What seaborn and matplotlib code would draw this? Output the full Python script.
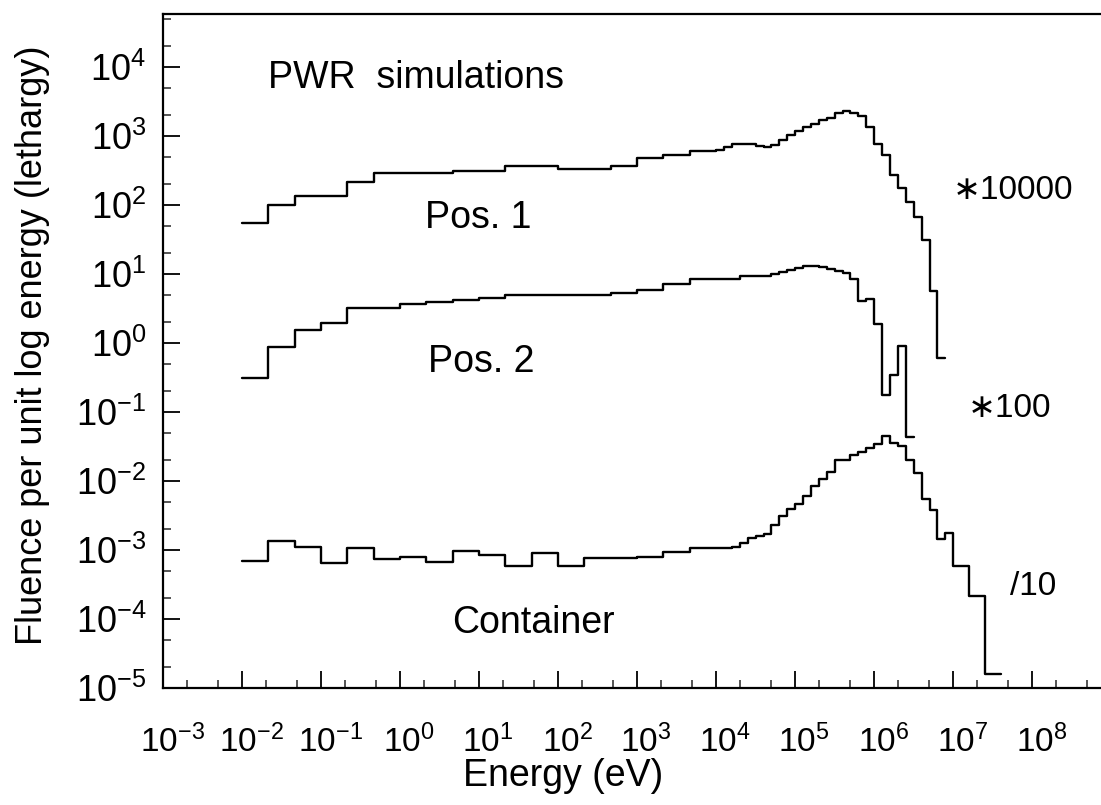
import numpy as np
import pandas as pd
import matplotlib
matplotlib.use("Agg")
import matplotlib.pyplot as plt
import matplotlib.transforms as mtransforms
from matplotlib.ticker import LogLocator, LogFormatterSciNotation, NullFormatter
import seaborn as sns

# energy bin edges (eV): 3 per decade up to 10 keV, then 10 per decade, then 5 per decade
energy_edges = [
    1.00e-2, 2.15e-2, 4.64e-2, 1.00e-1, 2.15e-1, 4.64e-1,
    1.00e0, 2.15e0, 4.64e0, 1.00e1, 2.15e1, 4.64e1,
    1.00e2, 2.15e2, 4.64e2, 1.00e3, 2.15e3, 4.64e3,
    1.00e4, 1.26e4, 1.58e4, 2.00e4, 2.51e4, 3.16e4, 3.98e4, 5.01e4, 6.31e4, 7.94e4,
    1.00e5, 1.26e5, 1.58e5, 2.00e5, 2.51e5, 3.16e5, 3.98e5, 5.01e5, 6.31e5, 7.94e5,
    1.00e6, 1.26e6, 1.58e6, 2.00e6, 2.51e6, 3.16e6, 3.98e6, 5.01e6, 6.31e6, 7.94e6,
    1.00e7, 1.58e7, 2.51e7, 3.98e7,
]

# fluence per unit lethargy, already multiplied by the factor shown on the right
pos1_fluence = [
    55, 100, 135, 135, 214, 288, 295, 295, 316, 316, 363, 363,
    331, 331, 363, 479, 525, 603,
    631, 692, 759, 776, 776, 724, 692, 741, 871, 1023,
    1202, 1349, 1514, 1738, 1820, 2188, 2344, 2188, 1950, 1349,
    776, 525, 269, 174, 112, 67.6, 31.6, 5.75, 0.60,
]
pos2_fluence = [
    0.309, 0.891, 1.55, 1.95, 3.24, 3.24, 3.72, 3.89, 4.27, 4.57, 5.01, 5.01,
    5.01, 5.01, 5.25, 5.89, 7.24, 8.51,
    8.51, 8.51, 8.51, 9.33, 9.33, 9.33, 9.33, 10.0, 10.7, 11.5,
    12.3, 12.9, 12.9, 12.6, 12.0, 11.2, 10.5, 8.51, 4.07, 4.37,
    1.86, 0.174, 0.347, 0.912, 0.0437,
]
container_fluence = [
    7.00e-4, 1.33e-3, 1.12e-3, 6.46e-4, 1.07e-3, 7.41e-4, 7.82e-4, 6.61e-4,
    9.55e-4, 8.51e-4, 5.92e-4, 8.93e-4, 5.92e-4, 7.59e-4, 7.59e-4, 7.94e-4,
    9.23e-4, 1.07e-3,
    1.07e-3, 1.07e-3, 1.12e-3, 1.26e-3, 1.51e-3, 1.58e-3, 1.70e-3, 2.34e-3, 3.16e-3, 3.89e-3,
    4.68e-3, 6.17e-3, 8.51e-3, 1.07e-2, 1.35e-2, 2.00e-2, 2.04e-2, 2.40e-2, 2.63e-2, 3.02e-2,
    3.39e-2, 4.57e-2, 3.55e-2, 3.24e-2, 2.04e-2, 1.29e-2, 5.50e-3, 3.80e-3, 1.45e-3, 1.78e-3,
    5.89e-4, 2.19e-4, 1.62e-5,
]

series_names = ["Pos. 1", "Pos. 2", "Container"]
scale_notes = ["\u221710000", "\u2217100", "/10"]
x_ticks = [1e-3, 1e-2, 1e-1, 1e0, 1e1, 1e2, 1e3, 1e4, 1e5, 1e6, 1e7, 1e8]
y_ticks = [1e-5, 1e-4, 1e-3, 1e-2, 1e-1, 1e0, 1e1, 1e2, 1e3, 1e4]


def step_frame(values, name):
    # last value repeated so the final bin gets its horizontal segment
    edges = energy_edges[:len(values) + 1]
    return pd.DataFrame({"energy": edges,
                         "fluence": list(values) + [values[-1]],
                         "series": name})


df = pd.concat([step_frame(pos1_fluence, series_names[0]),
                step_frame(pos2_fluence, series_names[1]),
                step_frame(container_fluence, series_names[2])], ignore_index=True)

sns.set_style("ticks")
plt.rcParams["font.family"] = ["Liberation Sans", "DejaVu Sans"]
plt.rcParams["text.color"] = "black"
plt.rcParams["axes.labelcolor"] = "black"
plt.rcParams["mathtext.fontset"] = "custom"
plt.rcParams["mathtext.rm"] = "Liberation Sans"
plt.rcParams["mathtext.it"] = "Liberation Sans:italic"
plt.rcParams["mathtext.bf"] = "Liberation Sans:bold"

fig = plt.figure(figsize=(11.01, 8.05), dpi=100)
ax = fig.add_axes([163 / 1101, 117 / 805, 938 / 1101, 674 / 805])
ax.set_xscale("log")
ax.set_yscale("log")

for name, sub in df.groupby("series", sort=False):
    sns.lineplot(data=sub, x="energy", y="fluence", drawstyle="steps-post",
                 color="black", linewidth=1.7, estimator=None, sort=False,
                 legend=False, ax=ax)

ax.set_xticks(x_ticks)
ax.set_yticks(y_ticks)
ax.xaxis.set_major_formatter(LogFormatterSciNotation())
ax.yaxis.set_major_formatter(LogFormatterSciNotation())
ax.xaxis.set_minor_locator(LogLocator(base=10, subs=[2, 5], numticks=30))
ax.yaxis.set_minor_locator(LogLocator(base=10, subs=[2, 5], numticks=30))
ax.xaxis.set_minor_formatter(NullFormatter())
ax.yaxis.set_minor_formatter(NullFormatter())
ax.set_xlim(1e-3, 10 ** 8.87)
ax.set_ylim(1e-5, 10 ** 4.77)

ax.tick_params(which="major", direction="in", length=12, width=1.3, colors="black")
ax.tick_params(which="minor", direction="in", length=6, width=1.1)
ax.tick_params(axis="x", which="major", pad=26, labelsize=24)
ax.tick_params(axis="y", which="major", pad=12, labelsize=26)

# the x labels in the original sit a little to the right of their ticks
shift = mtransforms.ScaledTranslation(9 / 100, 0, fig.dpi_scale_trans)
for lab in ax.get_xticklabels():
    lab.set_transform(lab.get_transform() + shift)

for side in ["left", "top", "bottom"]:
    ax.spines[side].set_linewidth(1.6)
    ax.spines[side].set_color("black")
ax.spines["right"].set_visible(False)

ax.set_xlabel("Energy (eV)", fontsize=27)
ax.set_ylabel("Fluence per unit log energy (lethargy)", fontsize=26)
ax.xaxis.set_label_coords((563 - 163) / 938, (688 - 758) / 674)
ax.yaxis.set_label_coords((50 - 163) / 938, (688 - 345) / 674)

ax.text((268 - 163) / 938, (688 - 88) / 674, "PWR  simulations", transform=ax.transAxes,
        fontsize=27, va="baseline", ha="left")
name_pos = [(425, 228), (428, 372), (452, 633)]
for name, (px, py) in zip(series_names, name_pos):
    ax.text((px - 163) / 938, (688 - py) / 674, name, transform=ax.transAxes,
            fontsize=27, va="baseline", ha="left")
note_pos = [(953, 199), (968, 417), (1010, 595)]
for note, (px, py) in zip(scale_notes, note_pos):
    ax.text((px - 163) / 938, (688 - py) / 674, note, transform=ax.transAxes,
            fontsize=24, va="baseline", ha="left",
            family=["Liberation Sans", "DejaVu Sans"])

fig.savefig("out.png", dpi=100)
